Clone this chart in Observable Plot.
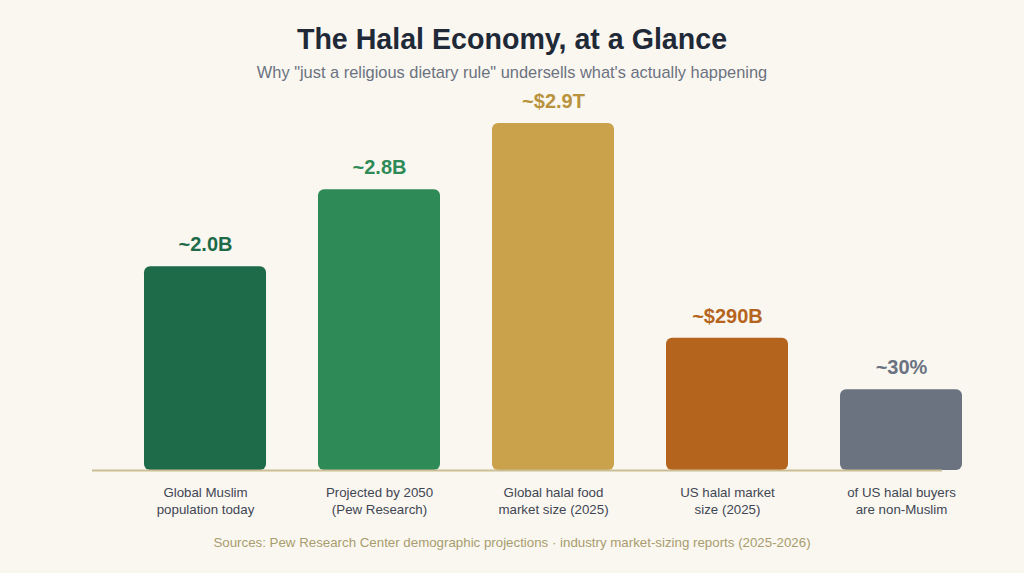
<!DOCTYPE html>
<html>
<head>
<meta charset="utf-8">
<script src="https://cdn.jsdelivr.net/npm/d3@7"></script>
<script src="https://cdn.jsdelivr.net/npm/@observablehq/plot@0.6"></script>
<style>
  html, body { margin: 0; padding: 0; background: #faf7f0; }
  #page {
    position: relative; width: 1024px; height: 573px; overflow: hidden;
    font-family: "Liberation Sans", Arial, Helvetica, sans-serif;
  }
  .title {
    position: absolute; left: 0; width: 1024px; top: 22px; text-align: center;
    font-size: 28.6px; line-height: 34px; font-weight: bold; color: #1f2937;
  }
  .subtitle {
    position: absolute; left: 0; width: 1024px; top: 62px; text-align: center;
    font-size: 16.4px; line-height: 20px; color: #6b7280;
  }
  #chart { position: absolute; left: 0; top: 90px; }
  .caption {
    position: absolute; left: 0; width: 1024px; top: 534px; text-align: center;
    font-size: 13.3px; line-height: 18px; color: #a89c6e;
  }
</style>
</head>
<body>
<div id="page">
  <div class="title">The Halal Economy, at a Glance</div>
  <div class="subtitle">Why "just a religious dietary rule" undersells what's actually happening</div>
  <div id="chart"></div>
  <div class="caption">Sources: Pew Research Center demographic projections · industry market-sizing reports (2025-2026)</div>
</div>
<script>
// Categories (two-line axis labels)
const categories = [
  "Global Muslim\npopulation today",
  "Projected by 2050\n(Pew Research)",
  "Global halal food\nmarket size (2025)",
  "US halal market\nsize (2025)",
  "of US halal buyers\nare non-Muslim"
];
// Headline figure printed above each bar
const valueLabels = ["~2.0B", "~2.8B", "~$2.9T", "~$290B", "~30%"];
// Relative bar height (index, tallest bar = 100); the figures mix units
const barHeight = [58.7, 80.9, 100, 38.1, 23.3];
const barColors = ["#1e6b49", "#2e8b57", "#c9a24b", "#b5641e", "#6b7280"];
const labelColors = ["#1e6b49", "#2e8b57", "#b8923c", "#b5641e", "#6b7280"];

const data = categories.map((c, i) => ({
  category: c,
  label: valueLabels[i],
  height: barHeight[i],
  fill: barColors[i],
  labelFill: labelColors[i]
}));

const chart = Plot.plot({
  width: 1024,
  height: 440,
  marginLeft: 92,
  marginRight: 82,
  marginTop: 33,
  marginBottom: 60,
  style: {
    background: "transparent",
    fontFamily: "\"Liberation Sans\", Arial, Helvetica, sans-serif",
    overflow: "visible"
  },
  x: { type: "band", domain: categories, range: [91, 1015], padding: 0.3, axis: null },
  y: { domain: [0, 100], axis: null },
  color: { type: "identity" },
  marks: [
    Plot.barY(data, { x: "category", y: "height", fill: "fill", rx: 6 }),
    Plot.ruleY([0], { stroke: "#cbbd94", strokeWidth: 2 }),
    Plot.text(data, {
      x: "category", y: "height", text: "label", fill: "labelFill",
      dy: -22, fontSize: 20, fontWeight: "bold"
    }),
    Plot.axisX({
      tickSize: 0, tickPadding: 14, fontSize: 13.3, lineHeight: 1.3,
      fill: "#3f4654", label: null
    })
  ]
});
document.getElementById("chart").appendChild(chart);
</script>
</body>
</html>
